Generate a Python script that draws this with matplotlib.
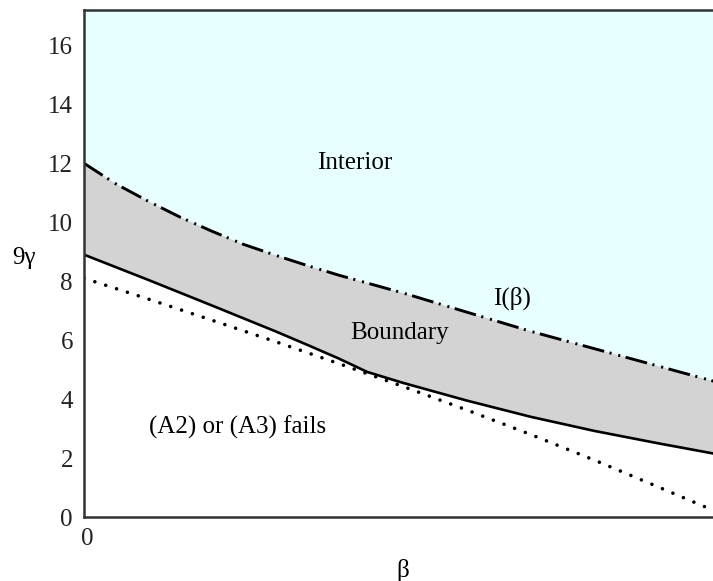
from matplotlib import pyplot as plt

plt.rcParams['font.family'] = ['Liberation Serif', 'DejaVu Serif']
plt.rcParams['lines.scale_dashes'] = False

# curves (beta, 9*gamma)
beta_I = [0.0, 0.05, 0.1, 0.15, 0.2, 0.25, 0.3, 0.35, 0.4, 0.45, 0.5, 0.6, 0.7, 0.8, 0.9, 1.0]
I_vals = [12.0, 11.3, 10.72, 10.18, 9.7, 9.25, 8.88, 8.53, 8.2, 7.9, 7.6, 6.95, 6.3, 5.71, 5.12, 4.53]

beta_bd = [0.0, 0.1, 0.2, 0.3, 0.35, 0.4, 0.444, 0.5, 0.6, 0.7, 0.8, 0.9, 1.0]
bd_vals = [8.9, 8.05, 7.18, 6.3, 5.84, 5.37, 4.92, 4.55, 3.95, 3.4, 2.92, 2.5, 2.1]

beta_dot = [0.0, 0.1, 0.2, 0.3, 0.4, 0.5, 0.6, 0.7, 0.8, 0.9, 1.0]
dot_vals = [8.1, 7.4, 6.68, 5.95, 5.2, 4.43, 3.63, 2.8, 1.93, 1.02, 0.1]

ytop = 17.2
yticks = [0, 2, 4, 6, 8, 10, 12, 14, 16]

fig = plt.figure(figsize=(7.13, 5.81), dpi=100)
ax = fig.add_axes([84/713, 64/581, 638/713, 507/581])

# interior above I(beta), boundary band between the two curves
ax.fill_between(beta_I, I_vals, ytop, color='#e8ffff', lw=0)
ax.fill(beta_I + beta_bd[::-1], I_vals + bd_vals[::-1], color='#d3d3d3', lw=0)

ax.plot(beta_I, I_vals, color='black', lw=2.1,
        dashes=(16, 4, 1.5, 5, 1.5, 4), dash_capstyle='butt')
ax.plot(beta_bd, bd_vals, color='black', lw=1.9)
ax.plot(beta_dot, dot_vals, color='black', lw=2.6,
        dashes=(0.01, 8.2), dash_capstyle='round')

fs = 18
ax.text(0.425, 12.0, 'Interior', fontsize=fs, ha='center', va='center')
ax.text(0.494, 6.24, 'Boundary', fontsize=fs, ha='center', va='center')
ax.text(0.671, 7.42, 'I(β)', fontsize=fs, ha='center', va='center')
ax.text(0.24, 3.05, '(A2) or (A3) fails', fontsize=fs, ha='center', va='center')

ax.set_xlim(0, 1)
ax.set_ylim(0, ytop)
ax.set_yticks(yticks)
ax.set_yticklabels([str(v) for v in yticks], fontsize=fs, color='#222222')
ax.set_xticks([0.005])
ax.set_xticklabels(['0'], fontsize=fs, color='#222222')
ax.tick_params(length=0)
ax.tick_params(axis='y', pad=8)
ax.tick_params(axis='x', pad=8)
for s in ax.spines.values():
    s.set_linewidth(1.8)
    s.set_color('#333333')

fig.text(24/713, 1 - 258/581, '9γ', fontsize=fs, ha='center', va='center')
fig.text(403/713, 1 - 570/581, 'β', fontsize=fs, ha='center', va='center')

plt.savefig('out.png', dpi=100)
